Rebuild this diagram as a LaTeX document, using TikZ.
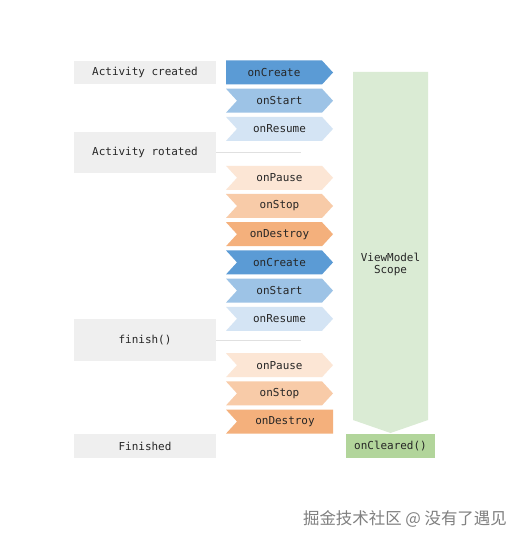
\documentclass[tikz,border=0pt]{standalone}
\usepackage{fontspec}
\usepackage{tikz}
\usetikzlibrary{positioning}
\usetikzlibrary{shapes.symbols}
\newfontfamily\codefont{DejaVu Sans Mono}
\newfontfamily\cjk{Noto Sans CJK SC}

\definecolor{stateGray}{HTML}{EFEFEF}
\definecolor{createBlue}{HTML}{5B9BD5}
\definecolor{startBlue}{HTML}{9DC3E6}
\definecolor{resumeBlue}{HTML}{D4E4F4}
\definecolor{pauseOrange}{HTML}{FCE6D5}
\definecolor{stopOrange}{HTML}{F8CBA8}
\definecolor{destroyOrange}{HTML}{F4B07C}
\definecolor{scopeGreen}{HTML}{DAEBD4}
\definecolor{clearedGreen}{HTML}{B2D59B}

\begin{document}
\begin{tikzpicture}[
    x=1bp, y=1bp,
    node distance=3.8bp,
    lifecycleStep/.style={
        signal, signal to=east, signal from=west,
        signal pointer angle=95,
        minimum width=107bp, minimum height=24bp,
        inner sep=0pt,
        font=\codefont\fontsize{11}{12}\selectfont,
        text=black!85
    },
    activityState/.style={
        rectangle, fill=stateGray,
        minimum width=142bp,
        inner sep=0pt,
        font=\codefont\fontsize{11}{12}\selectfont,
        text=black!85
    },
    stateLine/.style={draw=black!12, line width=0.8bp}
]
\useasboundingbox[fill=white] (0,0) rectangle (522,-543);

% lifecycle callbacks
\node[lifecycleStep, signal from=nowhere, fill=createBlue] (create1) at (274,-72.5) {onCreate};
\node[lifecycleStep, fill=startBlue, below=of create1, xshift=5.5bp] (start1) {onStart};
\node[lifecycleStep, fill=resumeBlue, below=of start1] (resume1) {onResume};
\node[lifecycleStep, fill=pauseOrange, below=24.5bp of resume1] (pause1) {onPause};
\node[lifecycleStep, fill=stopOrange, below=of pause1] (stop1) {onStop};
\node[lifecycleStep, fill=destroyOrange, below=of stop1] (destroy1) {onDestroy};
\node[lifecycleStep, fill=createBlue, below=of destroy1] (create2) {onCreate};
\node[lifecycleStep, fill=startBlue, below=of create2] (start2) {onStart};
\node[lifecycleStep, fill=resumeBlue, below=of start2] (resume2) {onResume};
\node[lifecycleStep, fill=pauseOrange, below=22bp of resume2] (pause2) {onPause};
\node[lifecycleStep, fill=stopOrange, below=of pause2] (stop2) {onStop};
\node[lifecycleStep, signal to=nowhere, fill=destroyOrange, below=of stop2, xshift=5.5bp] (destroy2) {onDestroy};

% activity states
\node[activityState, minimum height=23bp] (created) at (145,-72.5) {Activity created};
\node[activityState, minimum height=41bp] (rotated) at (145,-152.5) {Activity rotated};
\node[activityState, minimum height=42bp] (finish) at (145,-340) {finish()};
\node[activityState, minimum height=24bp] (finished) at (145,-446) {Finished};

\coordinate (rotatedEnd) at (301,-152.5);
\coordinate (finishEnd) at (301,-340);
\draw[stateLine] (rotated.east) -- (rotatedEnd);
\draw[stateLine] (finish.east) -- (finishEnd);

% viewmodel scope
\fill[scopeGreen] (353,-72) -- (428,-72) -- (428,-420) -- (390.5,-433) -- (353,-420) -- cycle;
\node[font=\codefont\fontsize{11}{12}\selectfont, text=black!85, align=center]
      (scope) at (390.5,-264) {ViewModel\\Scope};
\node[rectangle, fill=clearedGreen, minimum width=89bp, minimum height=24bp, inner sep=0pt,
      font=\codefont\fontsize{11}{12}\selectfont, text=black!85]
      (cleared) at (390.5,-446) {onCleared()};

% watermark
\node[font=\cjk\fontsize{16.5}{18}\selectfont, text=black!50, anchor=east, inner sep=0pt]
      (mark) at (507,-519) {掘金技术社区 @ 没有了遇见};
\end{tikzpicture}
\end{document}
